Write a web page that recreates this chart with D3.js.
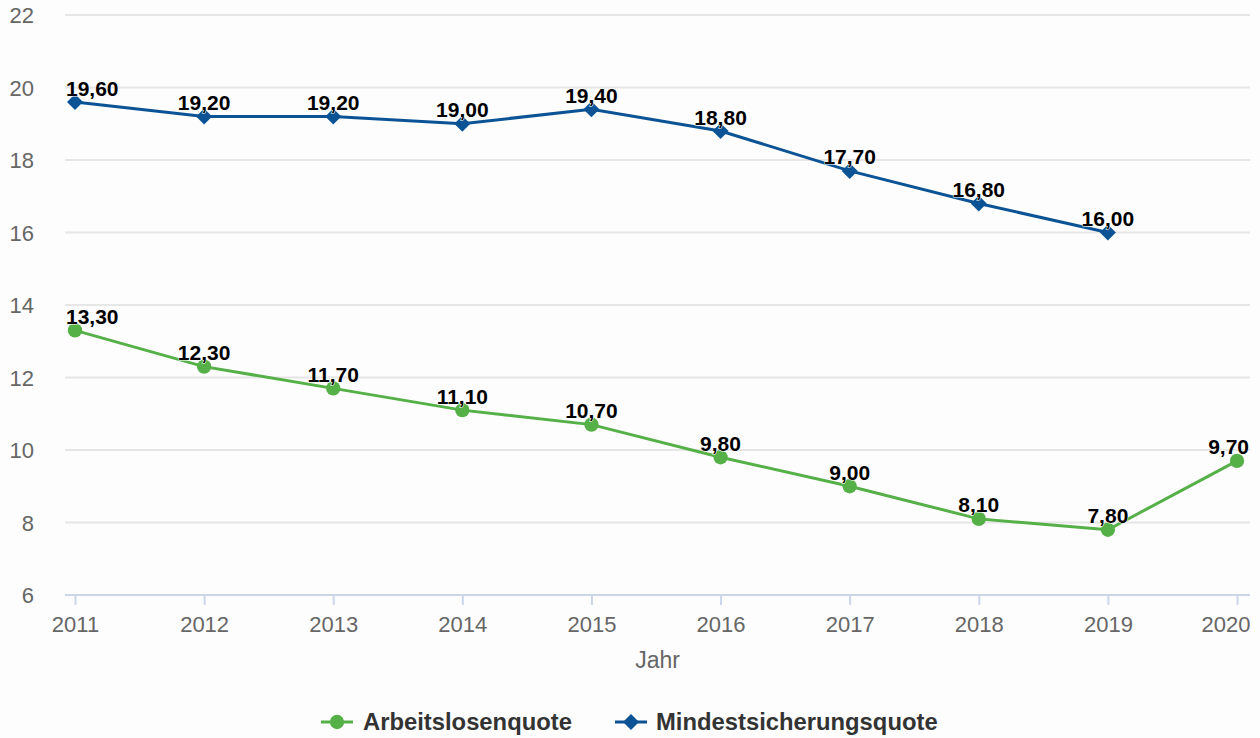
<!DOCTYPE html>
<html>
<head>
<meta charset="utf-8">
<script src="https://cdn.jsdelivr.net/npm/d3@7"></script>
<style>
  body { margin: 0; background: #fdfdfd; }
  svg { display: block; font-family: "Liberation Sans", Arial, sans-serif; }
</style>
</head>
<body>
<script>
// Daten
var jahre = [2011, 2012, 2013, 2014, 2015, 2016, 2017, 2018, 2019, 2020];
var arbeitslosenquote = [13.3, 12.3, 11.7, 11.1, 10.7, 9.8, 9.0, 8.1, 7.8, 9.7];
var mindestsicherungsquote = [19.6, 19.2, 19.2, 19.0, 19.4, 18.8, 17.7, 16.8, 16.0, null];
var yTicks = [6, 8, 10, 12, 14, 16, 18, 20, 22];

var serien = [
  { name: "Arbeitslosenquote", werte: arbeitslosenquote, farbe: "#55b047", symbol: "circle" },
  { name: "Mindestsicherungsquote", werte: mindestsicherungsquote, farbe: "#0b5394", symbol: "diamond" }
];

var totalWidth = 1260, totalHeight = 738;
var plot = { left: 65, right: 1250, top: 15, bottom: 595 };

var svg = d3.select("body").append("svg")
  .attr("width", totalWidth)
  .attr("height", totalHeight);

var x = d3.scalePoint().domain(jahre).range([75, 1237]);
var y = d3.scaleLinear().domain([6, 22]).range([plot.bottom, plot.top]);

// Gitterlinien
svg.append("g").selectAll("line")
  .data(yTicks.filter(function(t) { return t > 6; }))
  .enter().append("line")
  .attr("x1", plot.left).attr("x2", plot.right)
  .attr("y1", function(d) { return y(d); })
  .attr("y2", function(d) { return y(d); })
  .attr("stroke", "#e6e6e6")
  .attr("stroke-width", 2);

// y-Achse (nur Beschriftung)
var yAxis = d3.axisLeft(y).tickValues(yTicks).tickSize(0).tickPadding(0);
var gy = svg.append("g").attr("transform", "translate(34,0)").call(yAxis);
gy.select(".domain").remove();
gy.selectAll("text")
  .attr("fill", "#666")
  .attr("dy", "0.36em")
  .style("font-size", "22px")
  .style("font-family", "Liberation Sans, Arial, sans-serif");

// x-Achse
var xAxis = d3.axisBottom(x).tickSize(10).tickPadding(11).tickSizeOuter(0);
var gx = svg.append("g").attr("transform", "translate(0," + plot.bottom + ")").call(xAxis);
gx.select(".domain").remove();
gx.append("line")
  .attr("x1", plot.left).attr("x2", plot.right)
  .attr("y1", 0).attr("y2", 0)
  .attr("stroke", "#ccd6eb").attr("stroke-width", 2);
gx.selectAll(".tick line").attr("stroke", "#ccd6eb").attr("stroke-width", 2);
gx.selectAll("text")
  .attr("fill", "#666")
  .style("font-size", "22px")
  .style("font-family", "Liberation Sans, Arial, sans-serif")
  .attr("x", function(d) {
    // letzte Beschriftung nach innen schieben, damit sie nicht abgeschnitten wird
    var halb = this.getComputedTextLength() / 2;
    var ueber = x(d) + halb - (totalWidth - 10);
    return ueber > 0 ? -ueber : 0;
  });

svg.append("text")
  .attr("x", (plot.left + plot.right) / 2)
  .attr("y", 668)
  .attr("text-anchor", "middle")
  .attr("fill", "#666")
  .style("font-size", "23px")
  .text("Jahr");

// Linien, Symbole, Beschriftungen
var line = d3.line()
  .defined(function(d) { return d.v != null; })
  .x(function(d) { return x(d.j); })
  .y(function(d) { return y(d.v); });

function symbolPfad(art) {
  if (art == "circle") return d3.symbol().type(d3.symbolCircle).size(160)();
  return "M0,-8 L8,0 L0,8 L-8,0 Z";
}

serien.forEach(function(s) {
  var punkte = jahre.map(function(j, i) { return { j: j, v: s.werte[i] }; })
    .filter(function(d) { return d.v != null; });

  svg.append("path")
    .datum(punkte)
    .attr("d", line)
    .attr("fill", "none")
    .attr("stroke", s.farbe)
    .attr("stroke-width", 3);

  svg.append("g").selectAll("path")
    .data(punkte).enter().append("path")
    .attr("d", symbolPfad(s.symbol))
    .attr("transform", function(d) { return "translate(" + x(d.j) + "," + y(d.v) + ")"; })
    .attr("fill", s.farbe);

  // Beschriftungen werden innerhalb der Zeichenfläche gehalten
  svg.append("g").selectAll("text")
    .data(punkte).enter().append("text")
    .attr("y", function(d) { return y(d.v) - 6.5; })
    .attr("text-anchor", "middle")
    .attr("fill", "#000")
    .attr("stroke", "#fff")
    .attr("stroke-width", 1)
    .attr("paint-order", "stroke")
    .style("font-size", "21px")
    .style("font-weight", "bold")
    .text(function(d) { return d.v.toFixed(2).replace(".", ","); })
    .attr("x", function(d) {
      var halb = this.getComputedTextLength() / 2;
      var cx = x(d.j);
      cx = Math.max(cx, plot.left + 1 + halb);
      cx = Math.min(cx, plot.right - 1 - halb);
      return cx;
    });
});

// Legende
var legende = [
  { x: 321, textX: 363 },
  { x: 615, textX: 656 }
];
serien.forEach(function(s, i) {
  var g = svg.append("g");
  g.append("line")
    .attr("x1", legende[i].x).attr("x2", legende[i].x + 32)
    .attr("y1", 722).attr("y2", 722)
    .attr("stroke", s.farbe).attr("stroke-width", 3);
  g.append("path")
    .attr("d", symbolPfad(s.symbol))
    .attr("transform", "translate(" + (legende[i].x + 16) + ",722)")
    .attr("fill", s.farbe);
  g.append("text")
    .attr("x", legende[i].textX)
    .attr("y", 730)
    .attr("fill", "#333")
    .style("font-size", "23.8px")
    .style("font-weight", "bold")
    .text(s.name);
});
</script>
</body>
</html>
